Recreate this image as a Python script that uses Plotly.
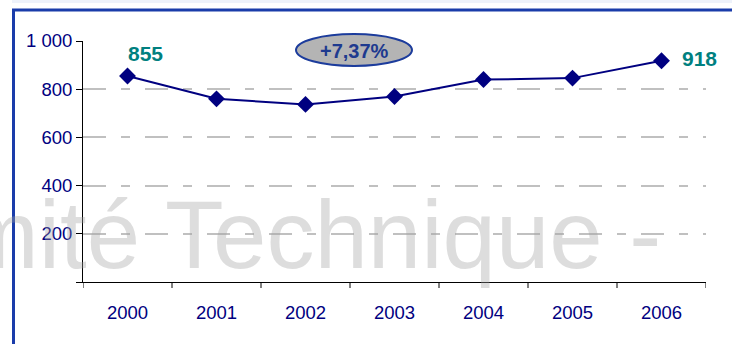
import plotly.graph_objects as go

# Yearly values
years = ["2000", "2001", "2002", "2003", "2004", "2005", "2006"]
values = [855, 760, 737, 770, 840, 846, 918]
y_ticks = [0, 200, 400, 600, 800, 1000]
y_tick_labels = ["", "200", "400", "600", "800", "1 000"]
growth_label = "+7,37%"
watermark = "Comité Technique -"

W, H = 732, 344
ML, MR, MT, MB = 83, 26, 41, 62
PW, PH = W - ML - MR, H - MT - MB


def px_x(px):
    return (px - ML) / PW


def px_y(py):
    return 1 - (py - MT) / PH


NAVY = "#000080"
TEAL = "#008080"
BORDER = "#1a3caa"
FONT = "Liberation Sans, Arial"

fig = go.Figure()
fig.add_trace(go.Scatter(
    x=list(range(len(years))), y=values, mode="lines+markers",
    line=dict(color=NAVY, width=2),
    marker=dict(symbol="diamond", size=13, color=NAVY),
    cliponaxis=False, hoverinfo="skip",
))

first, last = values[0], values[-1]

annotations = [
    dict(x=0, y=first, xref="x", yref="y", text=f"<b>{first}</b>",
         showarrow=False, xanchor="center", yanchor="middle",
         xshift=18, yshift=22,
         font=dict(family=FONT, size=21, color=TEAL)),
    dict(x=len(years) - 1, y=last, xref="x", yref="y", text=f"<b>{last}</b>",
         showarrow=False, xanchor="center", yanchor="middle",
         xshift=38, yshift=2,
         font=dict(family=FONT, size=21, color=TEAL)),
    dict(x=px_x(354), y=px_y(51), xref="paper", yref="paper",
         xanchor="center", yanchor="middle",
         text=f"<b>{growth_label}</b>", showarrow=False,
         font=dict(family=FONT, size=20, color="#1e3a8f")),
    dict(x=px_x(-166), y=px_y(290), xref="paper", yref="paper",
         xanchor="left", yanchor="bottom", text=watermark, showarrow=False,
         font=dict(family=FONT, size=96,
                   color="rgba(160,160,160,0.36)")),
]

shapes = [
    # light strip along the top edge
    dict(type="rect", xref="paper", yref="paper",
         x0=px_x(12), x1=px_x(740), y0=px_y(0), y1=px_y(3),
         fillcolor="#eef2fa", line=dict(width=0), layer="below"),
    # frame
    dict(type="rect", xref="paper", yref="paper",
         x0=px_x(13.5), x1=px_x(760), y0=px_y(10), y1=px_y(360),
         fillcolor="rgba(0,0,0,0)", line=dict(color=BORDER, width=3)),
    # badge behind the growth figure
    dict(type="circle", xref="paper", yref="paper",
         x0=px_x(296), x1=px_x(412), y0=px_y(34), y1=px_y(66),
         fillcolor="#b4b4b4", line=dict(color="#1c3c9c", width=2)),
]

fig.update_layout(
    width=W, height=H,
    margin=dict(l=ML, r=MR, t=MT, b=MB),
    paper_bgcolor="white", plot_bgcolor="white",
    showlegend=False,
    annotations=annotations, shapes=shapes,
    xaxis=dict(
        range=[-0.5, len(years) - 0.5],
        tickvals=list(range(len(years))), ticktext=years,
        showgrid=False, showline=True, linecolor="black", linewidth=1,
        ticks="outside", ticklen=0, tickcolor="black",
        ticklabelstandoff=14,
        tickfont=dict(family=FONT, size=18.5, color=NAVY),
        zeroline=False, fixedrange=True,
    ),
    yaxis=dict(
        range=[0, 1000], tickvals=y_ticks, ticktext=y_tick_labels,
        showgrid=True, gridcolor="#c0c0c0", gridwidth=1.5,
        griddash="23px,15px,9px,15px",
        zeroline=False, showline=True, linecolor="black", linewidth=1,
        ticks="outside", ticklen=6, tickcolor="black",
        tickfont=dict(family=FONT, size=18.5, color=NAVY),
        fixedrange=True,
    ),
)

# category boundary ticks along the x axis
for i in range(len(years) + 1):
    fig.add_shape(type="line", xref="x", yref="paper",
                  x0=i - 0.5, x1=i - 0.5, y0=0, y1=-6 / PH,
                  line=dict(color="black", width=1))

fig.write_html("out.html")
